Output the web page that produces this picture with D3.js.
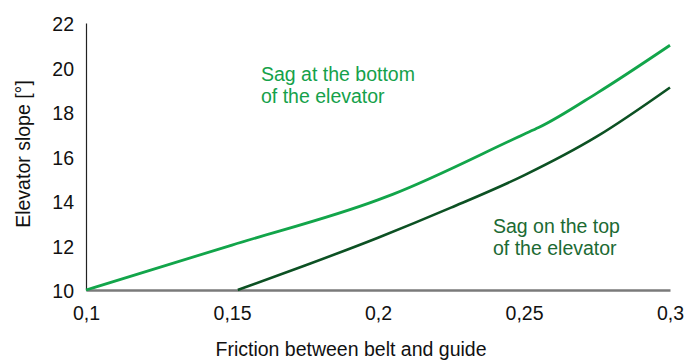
<html><head>
<script src="https://d3js.org/d3.v7.min.js"></script>
<style>
  body { margin: 0; background: #fff; }
  text { font-family: "Liberation Sans", Arial, sans-serif; font-size: 19.5px; fill: #111; }
</style>
</head>
<body>
<svg id="chart" width="699" height="363"></svg>
<script>
// Data
const xTicks = [0.1, 0.15, 0.2, 0.25, 0.3];
const yTicks = [10, 12, 14, 16, 18, 20, 22];

// "Sag at the bottom of the elevator"
const bottomX = [0.1, 0.15, 0.2, 0.205, 0.25, 0.255, 0.275, 0.3];
const bottomY = [10, 12.02, 14.05, 14.3, 17.0, 17.3, 18.85, 21.0];

// "Sag on the top of the elevator"
const topX = [0.152, 0.175, 0.2, 0.225, 0.25, 0.275, 0.3];
const topY = [10, 11.1, 12.35, 13.7, 15.15, 16.9, 19.1];

const svg = d3.select("#chart");
const mLeft = 86, mRight = 670, mTop = 23, mBottom = 290;

const x = d3.scaleLinear().domain([0.1, 0.3]).range([mLeft, mRight]);
const y = d3.scaleLinear().domain([10, 22]).range([mBottom, mTop]);

const comma = d => String(d).replace(".", ",");
const font = "'Liberation Sans', Arial, sans-serif";

// y axis: only the line and the labels
const yAxis = svg.append("g").attr("transform", "translate(" + mLeft + ",0)")
  .call(d3.axisLeft(y).tickValues(yTicks).tickSize(0).tickPadding(12));
yAxis.select(".domain").attr("stroke", "#222").attr("stroke-width", 1.2);
yAxis.selectAll("text").attr("dy", "0.4em").style("font-size", "19.5px")
  .style("font-family", font).attr("fill", "#111");

// x axis
const xAxis = svg.append("g").attr("transform", "translate(0," + mBottom + ")")
  .call(d3.axisBottom(x).tickValues(xTicks).tickFormat(comma).tickSize(0).tickPadding(16));
xAxis.select(".domain").attr("stroke", "#7a7a7a").attr("stroke-width", 2.5);
xAxis.selectAll("text").style("font-size", "19.5px")
  .style("font-family", font).attr("fill", "#111");

// titles
svg.append("text").attr("x", 351).attr("y", 356).attr("text-anchor", "middle")
  .text("Friction between belt and guide");
svg.append("text").attr("transform", "translate(30,154) rotate(-90)")
  .attr("text-anchor", "middle").text("Elevator slope [°]");

// lines
const curved = d3.line().x(d => x(d[0])).y(d => y(d[1])).curve(d3.curveMonotoneX);

svg.append("path").datum(d3.zip(bottomX, bottomY))
  .attr("d", curved).attr("fill", "none")
  .attr("stroke", "#12a54a").attr("stroke-width", 2.8).attr("stroke-linejoin", "round");

svg.append("path").datum(d3.zip(topX, topY))
  .attr("d", curved).attr("fill", "none")
  .attr("stroke", "#0c5123").attr("stroke-width", 2.6);

// annotations
const note1 = svg.append("text").style("fill", "#15a14a");
note1.append("tspan").attr("x", 261).attr("y", 81).text("Sag at the bottom");
note1.append("tspan").attr("x", 261).attr("y", 103).text("of the elevator");

const note2 = svg.append("text").style("fill", "#1c6a33");
note2.append("tspan").attr("x", 493).attr("y", 233).text("Sag on the top");
note2.append("tspan").attr("x", 493).attr("y", 255).text("of the elevator");
</script>
</body>
</html>
